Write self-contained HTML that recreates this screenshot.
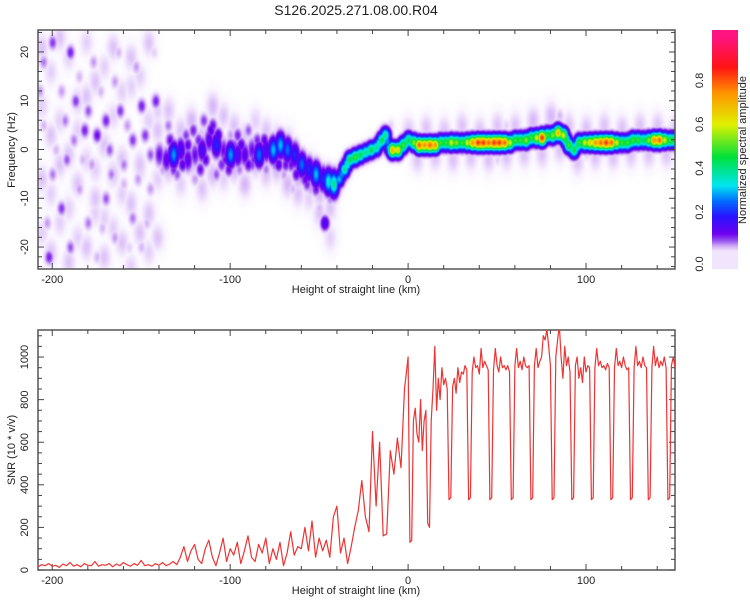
<!DOCTYPE html>
<html><head><meta charset="utf-8">
<style>
html,body{margin:0;padding:0;background:#fff;}
#wrap{position:relative;width:750px;height:600px;overflow:hidden;font-family:"Liberation Sans",sans-serif;}
canvas,svg{position:absolute;left:0;top:0;}
</style></head>
<body>
<div id="wrap">
<canvas id="heat" width="637" height="239" style="left:38px;top:30px"></canvas>
<canvas id="cbar" width="26" height="239" style="left:712px;top:30px"></canvas>
<svg id="svg" width="750" height="600"></svg>
</div>
<script>
// ---- data ----
const ridgeKm=[-140,-136,-132,-128,-124,-120,-116,-112,-108,-104,-100,-96,-92,-88,-84,-80,-76,-72,-68,-64,-60,-56,-52,-48,-45,-42,-39,-36,-33,-30,-27,-24,-21,-18,-15,-13,-11,-9,-6,-3,0,3,6,9,12,15,18,21,24,27,30,33,36,39,42,45,48,51,54,57,60,63,66,69,72,75,78,81,84,87,90,93,96,99,102,105,108,111,114,117,120,123,126,129,132,135,138,141,144,147,150];
const ridgeHz=[-1,-2,-1,0,-2,-1,0,2,1,0,-1,-1,-1,0,-1,0,0,1,0,-1,-3,-4,-5,-6,-6.5,-7,-6,-4,-2,-1.5,-1,-0.5,0,0.5,2,3,0.5,0,0,1,2,1.5,1,1,1,1,1.5,1.5,1.5,1.5,1.5,1.5,1.5,1.5,1.5,1.5,1.5,1.5,1.5,1.5,2,2,2,2.5,2.5,2.5,3,3,3.5,3,1,0,1.5,1.5,1.5,1.5,1.5,1.5,1.5,1.5,1.5,1.5,2,2,2,2,2,2,2,2,2];
const ridgeAmp=[0.1,0.12,0.28,0.15,0.12,0.1,0.15,0.12,0.2,0.1,0.28,0.15,0.12,0.1,0.25,0.15,0.3,0.3,0.25,0.2,0.25,0.2,0.3,0.2,0.35,0.4,0.3,0.4,0.45,0.5,0.45,0.4,0.45,0.4,0.45,0.4,0.3,0.7,0.65,0.5,0.45,0.55,0.8,0.75,0.8,0.75,0.5,0.5,0.6,0.55,0.5,0.6,0.75,0.85,0.85,0.8,0.85,0.85,0.8,0.6,0.5,0.5,0.55,0.5,0.6,0.85,0.5,0.55,0.7,0.6,0.5,0.45,0.5,0.6,0.65,0.75,0.8,0.85,0.8,0.6,0.5,0.5,0.5,0.5,0.45,0.55,0.75,0.8,0.6,0.5,0.5];
const scatterKm=[-205,-200,-195,-190,-185,-180,-175,-170,-165,-160,-155,-150,-145,-205,-200,-195,-190,-185,-180,-175,-170,-165,-160,-155,-150,-145,-202,-198,-188,-178,-168,-158,-148,-142,-207,-193,-183,-173,-163,-153,-143,-187,-177,-167,-157,-147,-203,-192,-182,-172,-162,-152,-135,-130,-125,-120,-115,-110,-105,-100,-95,-90,-85,-80,-75,-70,-65,-55,-50,-47,-44,-138,-118,-108,-98,-88,-78,-60,-10,20,55,85,110,130,50,100,
-134,-127,-121,-114,-107,-101,-94,-87,-81,-73,-66,-58,-52,-132,-124,-117,-111,-103,-96,-90,-83,-76,-69,-63,-57];
const scatterHz=[18,22,12,20,15,8,3,6,14,-3,2,9,-1,5,-5,-12,-20,-8,-15,-22,-10,-18,-7,-14,-20,-8,-22,0,2,-3,0,5,3,10,12,6,-2,12,20,17,20,10,18,-5,-20,-15,-15,-2,4,-16,8,-6,5,-5,3,-6,6,5,-3,3,-4,4,2,-4,-3,-5,-8,-8,-12,-15,-10,-4,2,-5,1,-3,2,-6,5,4,5,7,4,5,-2,-1,
2,-3,4,-2,3,-4,1,-2,2,-3,-3,-6,-8,-4,1,-4,4,-2,3,-3,-2,0,-3,-5,-7];
const scatterAmp=[.06,.08,.05,.09,.04,.07,.1,.09,.05,.06,.08,.09,.07,.04,.06,.08,.07,.05,.06,.04,.07,.05,.04,.06,.04,.05,.09,.04,.06,.05,.07,.05,.08,.09,.05,.06,.04,.04,.04,.05,.03,.08,.05,.06,.03,.04,.05,.07,.09,.04,.08,.05,.06,.07,.08,.05,.08,.1,.09,.05,.06,.07,.09,.06,.07,.05,.04,.05,.04,.15,.06,.05,.09,.07,.08,.08,.05,.06,.03,.03,.03,.04,.03,.03,.03,.03,
.1,.12,.09,.11,.13,.1,.12,.09,.11,.12,.1,.11,.1,.09,.11,.1,.12,.1,.09,.11,.1,.12,.1,.11,.09];
const hazeKm=[-206,-201,-196,-191,-186,-181,-176,-171,-166,-161,-156,-151,-146,-141,
-206,-201,-196,-191,-186,-181,-176,-171,-166,-161,-156,-151,-146,-141,
-206,-201,-196,-191,-186,-181,-176,-171,-166,-161,-156,-151,-146,-141,
-206,-201,-196,-191,-186,-181,-176,-171,-166,-161,-156,-151,-146,-141,
-135,-128,-122,-116,-110,-104,-98,-92,-86,-80,-74,-68,-62,-56,-50,-44,
-135,-128,-122,-116,-110,-104,-98,-92,-86,-80,-74,-68,-62,-56,-50,-44,
0,10,20,30,40,50,60,70,80,90,100,110,120,130,140,150,
5,15,25,35,45,55,65,75,85,95,105,115,125,135,145];
const hazeHz=[21,16,23,19,10,22,14,17,21,12,19,15,22,8,
9,3,6,-1,4,11,-4,1,7,-2,13,-3,6,4,
-6,-9,-3,-12,-7,-2,-10,-14,-5,-9,-11,-4,-13,-6,
-17,-21,-15,-23,-18,-20,-13,-22,-16,-19,-24,-17,-21,-18,
8,-7,6,-8,9,-6,5,-7,6,-5,3,-7,-9,-10,-13,-18,
-4,4,-3,3,-5,7,-4,3,-3,4,-4,2,-6,-3,-9,-12,
4,4.5,4,5,4,5,5,6,7,5,4.5,5,4.5,5,5,4.5,
-2,-1.5,-2,-1.5,-2,-1.5,-1,-1,0,-2.5,-1.5,-1.5,-1,-1,-1];
const hazeAmp=[.035,.03,.035,.03,.035,.03,.035,.03,.035,.03,.035,.03,.035,.03,
.03,.035,.03,.035,.03,.035,.03,.035,.03,.035,.03,.035,.03,.035,
.035,.03,.035,.03,.035,.03,.035,.03,.035,.03,.035,.03,.035,.03,
.03,.035,.03,.035,.03,.035,.03,.035,.03,.035,.03,.035,.03,.035,
.035,.03,.04,.035,.04,.03,.035,.04,.03,.035,.03,.04,.035,.03,.035,.03,
.04,.035,.04,.035,.04,.035,.04,.035,.04,.035,.04,.035,.04,.035,.04,.035,
.035,.035,.035,.035,.035,.035,.035,.04,.04,.035,.035,.035,.035,.035,.035,.035,
.035,.035,.035,.035,.035,.035,.035,.035,.035,.035,.035,.035,.035,.035,.035];
// SNR: part A from -208 step 2 to -2 ; part B from 0 step 1 to 150
const snrA=[15,25,20,30,18,22,12,28,20,35,18,25,15,30,22,20,40,18,25,22,30,15,28,20,35,25,18,30,22,45,20,25,18,30,22,35,20,28,40,
25,60,110,40,90,120,50,30,100,140,60,20,80,150,40,100,70,130,30,90,160,60,40,120,80,150,30,100,50,130,20,80,180,70,110,
100,200,90,230,60,150,90,140,60,250,300,80,150,30,110,200,280,420,250,180,650,300,600,160,170,560,450,620,480,850];
const snrB=[1000,130,140,700,760,640,600,800,560,700,750,220,200,700,850,1050,750,900,800,950,870,900,850,330,340,860,900,830,950,880,930,920,960,940,330,340,930,1000,950,960,920,1040,950,980,960,940,330,340,940,1040,960,930,1000,950,960,940,960,930,330,340,960,1040,950,980,940,1000,960,950,960,330,340,960,1040,950,980,1000,1100,1080,1130,1050,960,330,340,1000,1080,1150,1000,900,1050,960,1000,930,330,340,960,1000,900,950,880,1000,930,960,950,330,340,950,1040,960,980,950,960,940,970,950,330,340,950,1040,960,980,950,1000,960,940,950,330,340,950,1050,960,980,950,1000,960,950,330,340,950,1050,960,1000,950,980,960,1000,950,330,340,960,1000,950];
const xTicks=[-200,-100,0,100];
const freqTicks=[20,10,0,-10,-20];
const snrTicks=[0,200,400,600,800,1000];
const cbTicks=[0.0,0.2,0.4,0.6,0.8];

// ---- geometry ----
const L=38,R=675,T1=30,B1=269,T2=330,B2=570,XMIN=-208,XMAX=150;
const F0=24.5,F1=-24.5,S0=0,S1=1127;
const xs=v=>L+(v-XMIN)/(XMAX-XMIN)*(R-L);
const yf=v=>T1+(F0-v)/(F0-F1)*(B1-T1);
const ys=v=>B2-(v-S0)/(S1-S0)*(B2-T2);
const CB0=-0.06,CB1=1.03;
const ycb=v=>B1-(v-CB0)/(CB1-CB0)*(B1-T1);

const stops=[[0,[255,255,255]],[0.012,[250,244,255]],[0.025,[236,220,252]],[0.045,[208,170,246]],[0.07,[150,80,240]],[0.1,[110,0,240]],[0.18,[40,20,255]],[0.25,[0,110,255]],[0.32,[0,230,240]],[0.45,[0,225,60]],[0.6,[225,240,0]],[0.74,[255,150,0]],[0.86,[255,20,20]],[1,[255,20,130]]];
function cmap(v){
  if(v<=0)return stops[0][1];
  for(let i=1;i<stops.length;i++){if(v<=stops[i][0]){const a=stops[i-1],b=stops[i],t=(v-a[0])/(b[0]-a[0]);return a[1].map((c,k)=>Math.round(c+(b[1][k]-c)*t));}}
  return stops[stops.length-1][1];
}
(function(){
  const cv=document.getElementById('heat'),ctx=cv.getContext('2d'),W=cv.width,H=cv.height;
  const f=new Float32Array(W*H);
  function blob(km,hz,amp,sk,sh){
    const cx=xs(km)-L,cy=yf(hz)-T1,sx=sk*(R-L)/(XMAX-XMIN),sy=sh*(B1-T1)/(F0-F1);
    const x0=Math.max(0,Math.floor(cx-3.5*sx)),x1=Math.min(W-1,Math.ceil(cx+3.5*sx));
    const y0=Math.max(0,Math.floor(cy-3.5*sy)),y1=Math.min(H-1,Math.ceil(cy+3.5*sy));
    for(let y=y0;y<=y1;y++)for(let x=x0;x<=x1;x++){
      const dx=(x-cx)/sx,dy=(y-cy)/sy,v=amp*Math.exp(-0.5*(dx*dx+dy*dy));
      const i=y*W+x; if(v>f[i])f[i]=v;}
  }
  for(let i=0;i<hazeKm.length;i++)blob(hazeKm[i],hazeHz[i],hazeAmp[i],3.0,2.2);
  for(let i=0;i<scatterKm.length;i++)blob(scatterKm[i],scatterHz[i],scatterAmp[i],1.8,1.1);
  for(let i=0;i<ridgeKm.length;i++){
    const wide=ridgeKm[i]<-40?1.6:1.0;
    blob(ridgeKm[i],ridgeHz[i],ridgeAmp[i],2.0,1.1*wide);
    if(i<ridgeKm.length-1){const m=Math.min(ridgeAmp[i],ridgeAmp[i+1])*(ridgeKm[i]<-40?0.6:0.92);blob((ridgeKm[i]+ridgeKm[i+1])/2,(ridgeHz[i]+ridgeHz[i+1])/2,m,2.0,1.1*wide);}
  }
  const img=ctx.createImageData(W,H);
  for(let i=0;i<W*H;i++){const c=cmap(f[i]);img.data[4*i]=c[0];img.data[4*i+1]=c[1];img.data[4*i+2]=c[2];img.data[4*i+3]=255;}
  ctx.putImageData(img,0,0);
  const cb=document.getElementById('cbar').getContext('2d');
  for(let y=0;y<239;y++){const v=CB1-(y+0.5)/239*(CB1-CB0);const c=cmap(Math.max(0.02,Math.min(1,v)));cb.fillStyle=`rgb(${c[0]},${c[1]},${c[2]})`;cb.fillRect(0,y,26,1);}
})();

// ---- svg ----
const NS='http://www.w3.org/2000/svg',svg=document.getElementById('svg');
function el(tag,attrs,parent){const e=document.createElementNS(NS,tag);for(const k in attrs)e.setAttribute(k,attrs[k]);(parent||svg).appendChild(e);return e;}
function text(x,y,s,opts,parent){const t=el('text',Object.assign({x:x,y:y,'font-size':11,'text-anchor':'middle',fill:'#222','font-family':'Liberation Sans, sans-serif'},opts||{}),parent);t.textContent=s;return t;}

const title=text(356,15,'S126.2025.271.08.00.R04',{'font-size':14});



function axesFrame(top,bot,name){
  const g=el('g',{});
  
  
  el('rect',{x:L,y:top,width:R-L,height:bot-top,fill:'none',stroke:'#555','stroke-width':1.5},g);
  for(let v=-200;v<=140;v+=20){const x=xs(v),len=(v%100===0)?6:4;
    el('line',{x1:x,x2:x,y1:bot,y2:bot-len,stroke:'#444','stroke-width':1},g);
    el('line',{x1:x,x2:x,y1:top,y2:top+len,stroke:'#444','stroke-width':1},g);}
  xTicks.forEach(v=>{const t=text(xs(v),bot+14,String(v),{'font-size':11},g);});
  const xl=text(356,bot+24,'Height of straight line (km)',{'font-size':11},g);
  
  
  return g;
}
const g1=axesFrame(T1,B1,'spectrogram');
for(let v=-24;v<=24;v+=2){const y=yf(v),len=(v%10===0)?6:4;
  el('line',{x1:L,x2:L+len,y1:y,y2:y,stroke:'#444'},g1);el('line',{x1:R,x2:R-len,y1:y,y2:y,stroke:'#444'},g1);}
freqTicks.forEach(v=>{const y=yf(v);const t=text(28,y,String(v),{transform:`rotate(-90 28 ${y})`},g1);});
const yt1=text(15,150,'Frequency (Hz)',{transform:'rotate(-90 15 150)'},g1);



const g2=axesFrame(T2,B2,'snr');
for(let v=0;v<=1100;v+=50){const y=ys(v),len=(v%200===0)?6:4;
  el('line',{x1:L,x2:L+len,y1:y,y2:y,stroke:'#444'},g2);el('line',{x1:R,x2:R-len,y1:y,y2:y,stroke:'#444'},g2);}
snrTicks.forEach(v=>{const y=ys(v);const t=text(28,y,String(v),{transform:`rotate(-90 28 ${y})`},g2);});
const yt2=text(15,450,'SNR (10 * v/v)',{transform:'rotate(-90 15 450)'},g2);



el('clipPath',{id:'clip2'}).appendChild(el('rect',{x:L,y:T2,width:R-L,height:B2-T2}));
let pts=[];
snrA.forEach((v,i)=>pts.push(xs(-208+2*i).toFixed(1)+','+ys(v).toFixed(1)));
snrB.forEach((v,i)=>pts.push(xs(i).toFixed(1)+','+ys(v).toFixed(1)));
const line=el('polyline',{points:pts.join(' '),fill:'none',stroke:'#ee3333','stroke-width':1.2,'clip-path':'url(#clip2)','stroke-linejoin':'round'});



const gc=el('g',{});


cbTicks.forEach(v=>{let y=ycb(v);if(v===0)y=264;const t=text(703,y,v.toFixed(1),{transform:`rotate(-90 703 ${y})`},gc);});
const ct=text(746,150,'Normalized spectral amplitude',{transform:'rotate(-90 746 150)'},gc);


</script>
</body></html>
